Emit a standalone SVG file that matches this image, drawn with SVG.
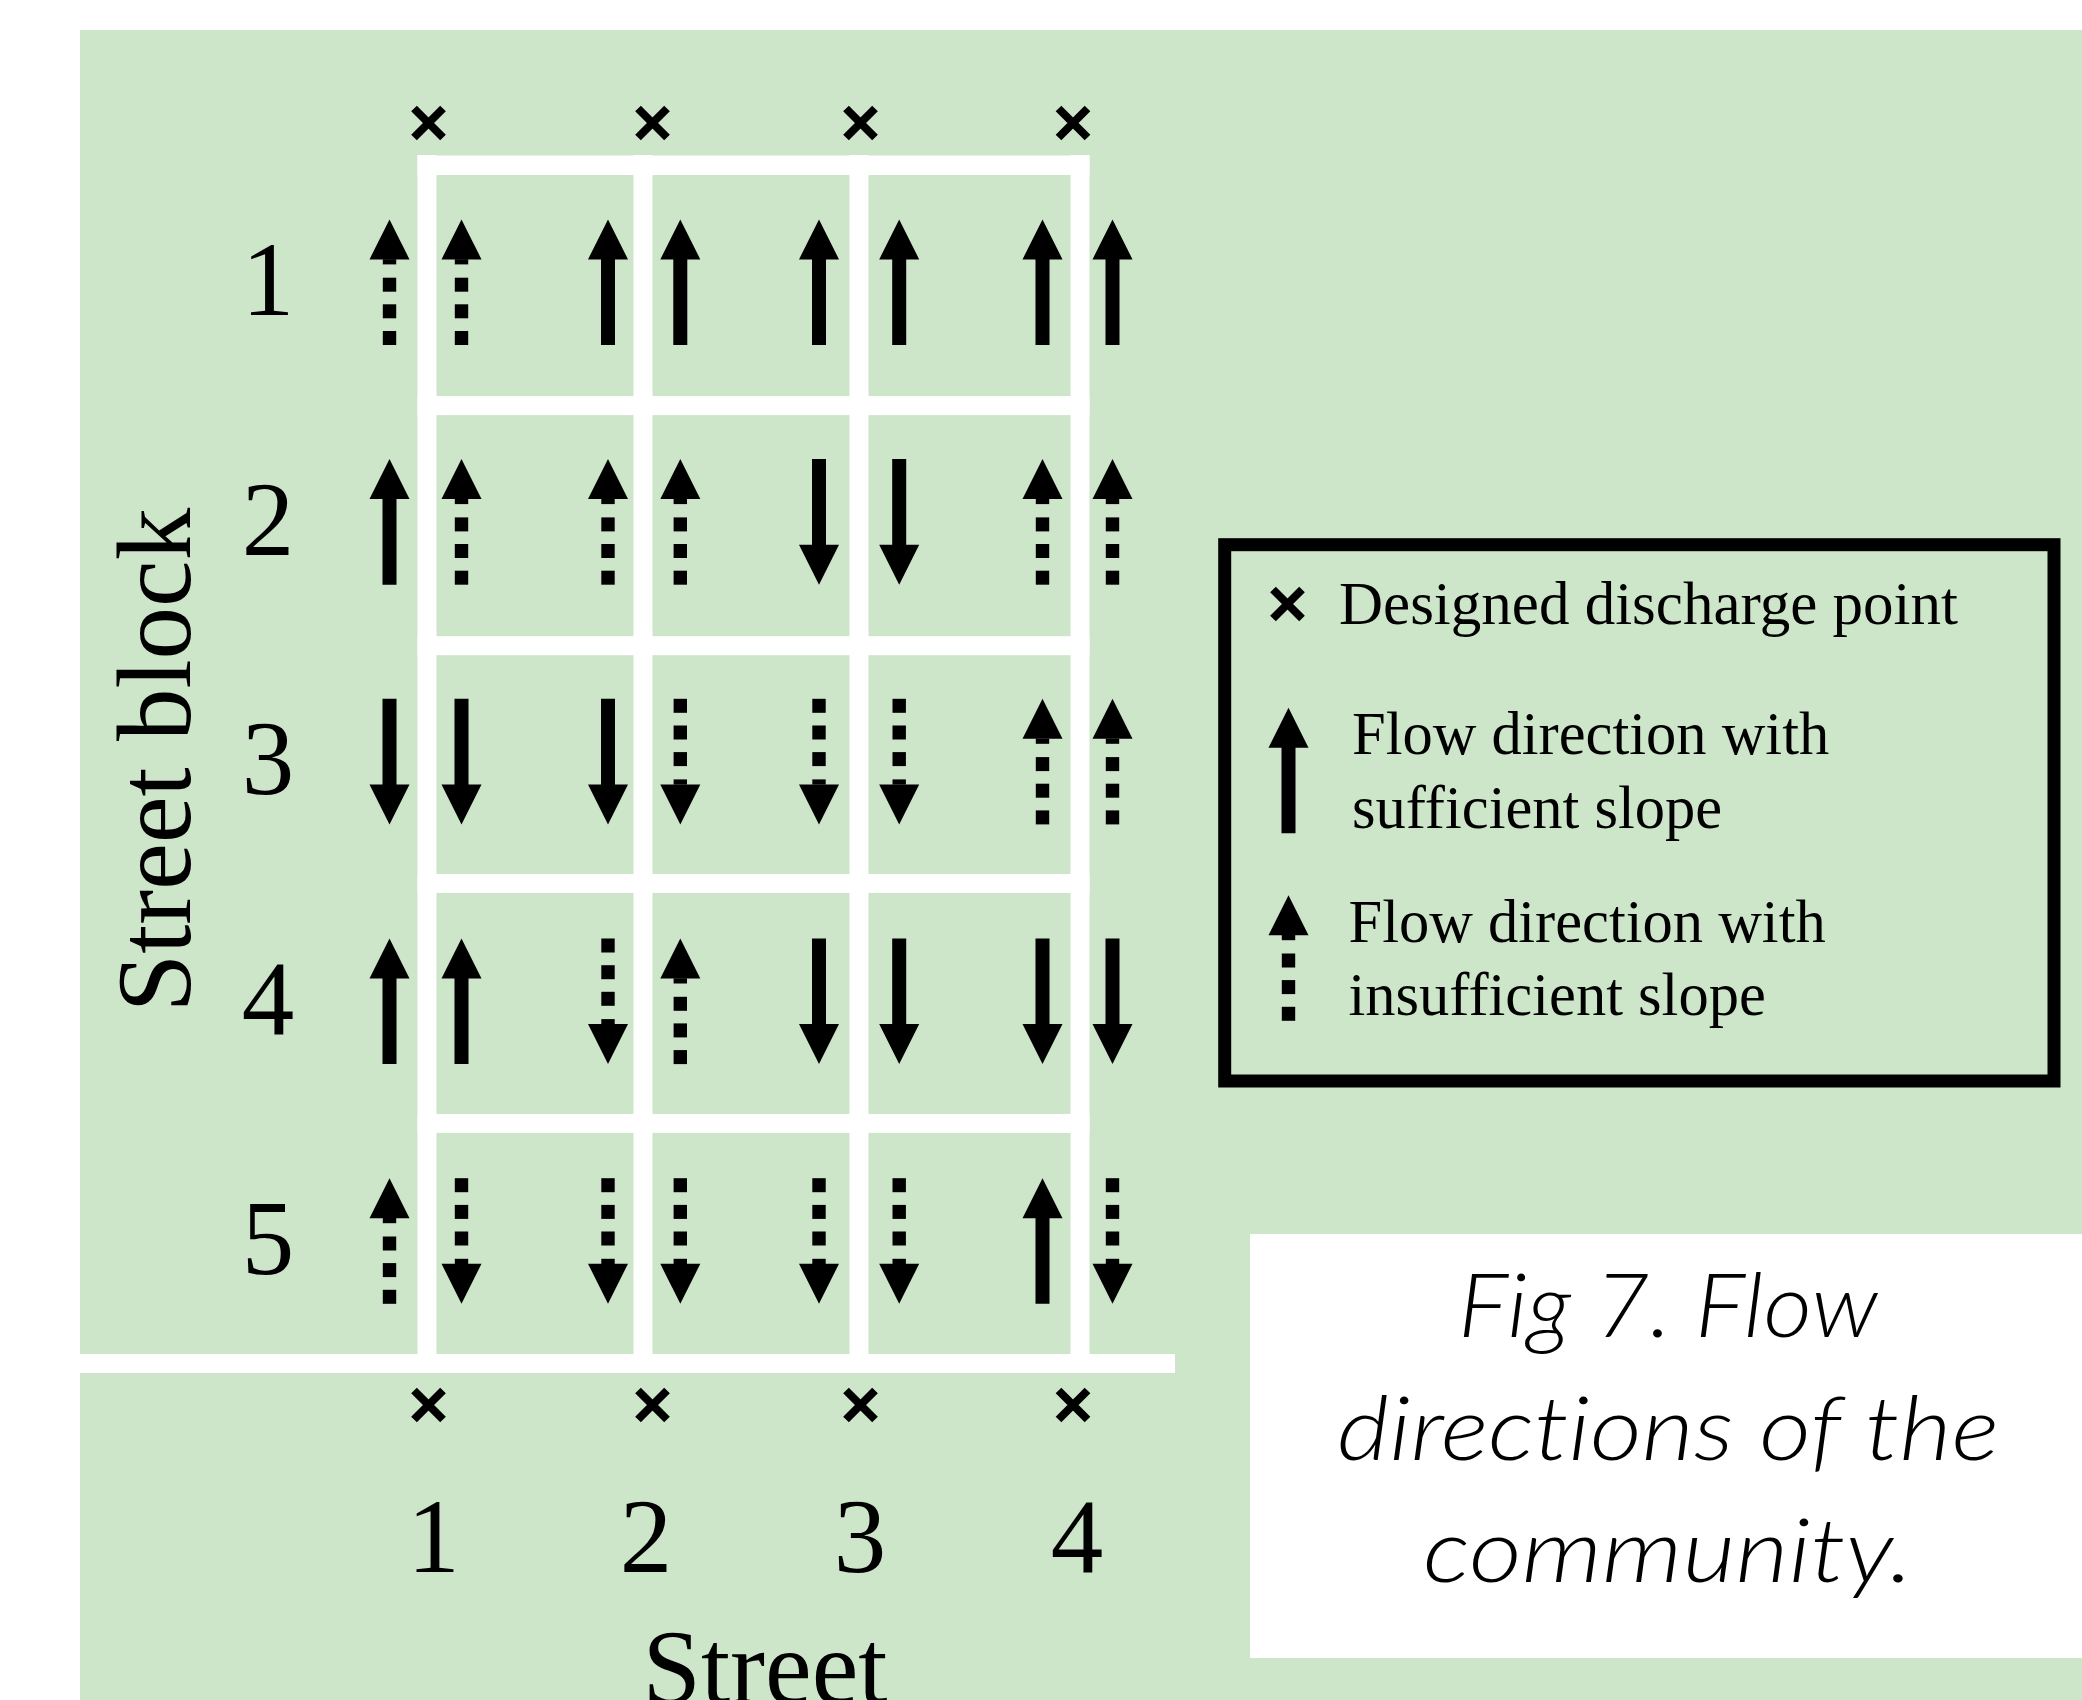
<svg xmlns="http://www.w3.org/2000/svg" xmlns:xlink="http://www.w3.org/1999/xlink" width="2082" height="1700" viewBox="0 0 2082 1700">
<style>
.serif{font-family:"Liberation Serif","Times New Roman",serif;fill:#000}
.lbl{font-size:105px;text-anchor:middle}
.leg{font-size:60.5px}
.cap{font-family:Lato,"Open Sans","Liberation Sans",sans-serif;font-style:italic;font-weight:300;font-size:88px;text-anchor:middle;fill:#000;font-variant-ligatures:none}
.road{fill:#ffffff}
.xm{fill:none;stroke:#000;stroke-width:8}
</style>
<defs>
<g id="xmark"><path class="xm" d="M-14.5,-14.5L14.5,14.5M14.5,-14.5L-14.5,14.5"/></g>
<g id="aSolid"><path d="M0,-62.8L20,-22.8L7,-22.8L7,62.8L-7,62.8L-7,-22.8L-20,-22.8Z" fill="#000"/></g>
<g id="aDash" fill="#000"><path d="M0,-62.8L20,-22.8L-20,-22.8Z"/><rect x="-6.7" y="-23" width="13.4" height="5.2"/><rect x="-6.7" y="-4.5" width="13.4" height="14"/><rect x="-6.7" y="22.1" width="13.4" height="14"/><rect x="-6.7" y="48.8" width="13.4" height="14"/></g>
</defs>
<rect id="background" x="80" y="30" width="2002" height="1670" fill="#cde6c9"/>
<g id="street-grid">
<rect class="road" x="417.5" y="155" width="19" height="1218"/>
<rect class="road" x="633.5" y="155" width="19" height="1218"/>
<rect class="road" x="849.5" y="155" width="19" height="1218"/>
<rect class="road" x="1070.5" y="155" width="19" height="1218"/>
<rect class="road" x="417.5" y="155.5" width="672" height="19.5"/>
<rect class="road" x="417.5" y="396.1" width="672" height="19"/>
<rect class="road" x="417.5" y="636.2" width="672" height="19"/>
<rect class="road" x="417.5" y="874" width="672" height="19"/>
<rect class="road" x="417.5" y="1113.9" width="672" height="19"/>
<rect class="road" x="80" y="1354" width="1095" height="19"/>
</g>
<g id="discharge-points">
<use href="#xmark" transform="translate(428.5,123)"/>
<use href="#xmark" transform="translate(652.5,123)"/>
<use href="#xmark" transform="translate(860.5,123)"/>
<use href="#xmark" transform="translate(1073,123)"/>
<use href="#xmark" transform="translate(428.5,1405)"/>
<use href="#xmark" transform="translate(652.5,1405)"/>
<use href="#xmark" transform="translate(860.5,1405)"/>
<use href="#xmark" transform="translate(1073,1405)"/>
</g>
<g id="flow-arrows">
<!-- row 1 -->
<use href="#aDash" transform="translate(389.5,282.2)"/>
<use href="#aDash" transform="translate(461.5,282.2)"/>
<use href="#aSolid" transform="translate(608,282.2)"/>
<use href="#aSolid" transform="translate(680.3,282.2)"/>
<use href="#aSolid" transform="translate(819,282.2)"/>
<use href="#aSolid" transform="translate(899.2,282.2)"/>
<use href="#aSolid" transform="translate(1042.5,282.2)"/>
<use href="#aSolid" transform="translate(1112.5,282.2)"/>
<!-- row 2 -->
<use href="#aSolid" transform="translate(389.5,521.9)"/>
<use href="#aDash" transform="translate(461.5,521.9)"/>
<use href="#aDash" transform="translate(608,521.9)"/>
<use href="#aDash" transform="translate(680.3,521.9)"/>
<use href="#aSolid" transform="translate(819,521.9) scale(1,-1)"/>
<use href="#aSolid" transform="translate(899.2,521.9) scale(1,-1)"/>
<use href="#aDash" transform="translate(1042.5,521.9)"/>
<use href="#aDash" transform="translate(1112.5,521.9)"/>
<!-- row 3 -->
<use href="#aSolid" transform="translate(389.5,761.6) scale(1,-1)"/>
<use href="#aSolid" transform="translate(461.5,761.6) scale(1,-1)"/>
<use href="#aSolid" transform="translate(608,761.6) scale(1,-1)"/>
<use href="#aDash" transform="translate(680.3,761.6) scale(1,-1)"/>
<use href="#aDash" transform="translate(819,761.6) scale(1,-1)"/>
<use href="#aDash" transform="translate(899.2,761.6) scale(1,-1)"/>
<use href="#aDash" transform="translate(1042.5,761.6)"/>
<use href="#aDash" transform="translate(1112.5,761.6)"/>
<!-- row 4 -->
<use href="#aSolid" transform="translate(389.5,1001.3)"/>
<use href="#aSolid" transform="translate(461.5,1001.3)"/>
<use href="#aDash" transform="translate(608,1001.3) scale(1,-1)"/>
<use href="#aDash" transform="translate(680.3,1001.3)"/>
<use href="#aSolid" transform="translate(819,1001.3) scale(1,-1)"/>
<use href="#aSolid" transform="translate(899.2,1001.3) scale(1,-1)"/>
<use href="#aSolid" transform="translate(1042.5,1001.3) scale(1,-1)"/>
<use href="#aSolid" transform="translate(1112.5,1001.3) scale(1,-1)"/>
<!-- row 5 -->
<use href="#aDash" transform="translate(389.5,1241)"/>
<use href="#aDash" transform="translate(461.5,1241) scale(1,-1)"/>
<use href="#aDash" transform="translate(608,1241) scale(1,-1)"/>
<use href="#aDash" transform="translate(680.3,1241) scale(1,-1)"/>
<use href="#aDash" transform="translate(819,1241) scale(1,-1)"/>
<use href="#aDash" transform="translate(899.2,1241) scale(1,-1)"/>
<use href="#aSolid" transform="translate(1042.5,1241)"/>
<use href="#aDash" transform="translate(1112.5,1241) scale(1,-1)"/>
</g>
<g id="block-labels" class="serif lbl">
<text x="268" y="315">1</text>
<text x="268" y="554.7">2</text>
<text x="268" y="794.4">3</text>
<text x="268" y="1034.1">4</text>
<text x="268" y="1273.8">5</text>
</g>
<g id="street-labels" class="serif lbl">
<text x="433.5" y="1572">1</text>
<text x="646" y="1572">2</text>
<text x="860" y="1572">3</text>
<text x="1077" y="1572">4</text>
</g>
<g id="axis-titles" class="serif lbl">
<text transform="translate(189.5,760) rotate(-90)">Street block</text>
<text x="765" y="1703">Street</text>
</g>
<g id="legend">
<rect x="1224.7" y="544.7" width="829.3" height="536.3" fill="none" stroke="#000" stroke-width="13"/>
<use href="#xmark" transform="translate(1287.5,604)"/>
<text class="serif" x="1339" y="624" font-size="61">Designed discharge point</text>
<use href="#aSolid" transform="translate(1288.5,770.5)"/>
<text class="serif leg" x="1352" y="754">Flow direction with</text>
<text class="serif leg" x="1352" y="828">sufficient slope</text>
<use href="#aDash" transform="translate(1288.5,958)"/>
<text class="serif leg" x="1348.5" y="942">Flow direction with</text>
<text class="serif leg" x="1348.5" y="1015">insufficient slope</text>
</g>
<g id="caption">
<rect x="1250" y="1234" width="832" height="424" fill="#ffffff"/>
<text class="cap" x="1668" y="1337" textLength="420" lengthAdjust="spacingAndGlyphs">Fig 7. Flow</text>
<text class="cap" x="1668" y="1459.5" textLength="662" lengthAdjust="spacingAndGlyphs">directions of the</text>
<text class="cap" x="1668" y="1582" textLength="490" lengthAdjust="spacingAndGlyphs">community.</text>
</g>
</svg>
